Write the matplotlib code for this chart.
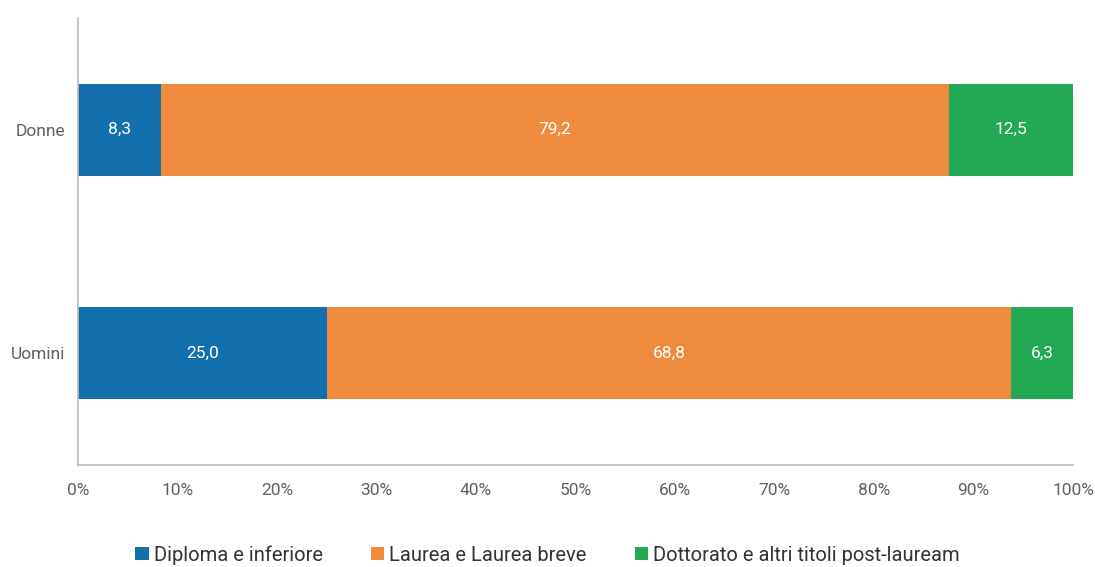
import matplotlib
matplotlib.use("Agg")
import matplotlib.pyplot as plt
import numpy as np

plt.rcParams['font.family'] = ['Roboto', 'DejaVu Sans']

categories = ["Uomini", "Donne"]
series_names = ["Diploma e inferiore", "Laurea e Laurea breve", "Dottorato e altri titoli post-lauream"]
diploma = [25.0, 8.3]
laurea = [68.8, 79.2]
dottorato = [6.3, 12.5]
xticks = [0, 10, 20, 30, 40, 50, 60, 70, 80, 90, 100]
colors = ["#1470ad", "#ee8b3e", "#23a853"]

fig = plt.figure(figsize=(10.95, 5.67), dpi=100)
ax = fig.add_axes([78/1095, 1 - 465/567, (1073-78)/1095, (465-18)/567])

y = np.arange(len(categories))
left = np.zeros(len(categories))
for name, vals, col in zip(series_names, [diploma, laurea, dottorato], colors):
    ax.barh(y, vals, left=left, height=0.41, color=col, label=name)
    for yi, l, v in zip(y, left, vals):
        ax.text(l + v/2, yi, f"{v:.1f}".replace(".", ","), ha="center", va="center",
                color="white", fontsize=12.5)
    left = left + np.array(vals)

ax.set_xlim(0, 100)
ax.set_ylim(-0.5, 1.5)
ax.set_yticks(y)
ax.set_yticklabels(categories, fontsize=12.5, color="#606060")
ax.set_xticks(xticks)
ax.set_xticklabels([f"{t}%" for t in xticks], fontsize=12.5, color="#606060")
ax.tick_params(axis="y", length=0, pad=9)
ax.tick_params(axis="x", length=0, pad=13)
for s in ["top", "right"]:
    ax.spines[s].set_visible(False)
for s in ["left", "bottom"]:
    ax.spines[s].set_color("#bbbbbb")
    ax.spines[s].set_linewidth(1.2)

leg = fig.legend(loc="lower center", bbox_to_anchor=(0.5, -0.028), ncol=3, frameon=False,
                 fontsize=14.5, handlelength=0.65, handleheight=0.65, handletextpad=0.25,
                 columnspacing=2.4)
for t in leg.get_texts():
    t.set_color("#333333")

fig.savefig("out.png", dpi=100)
